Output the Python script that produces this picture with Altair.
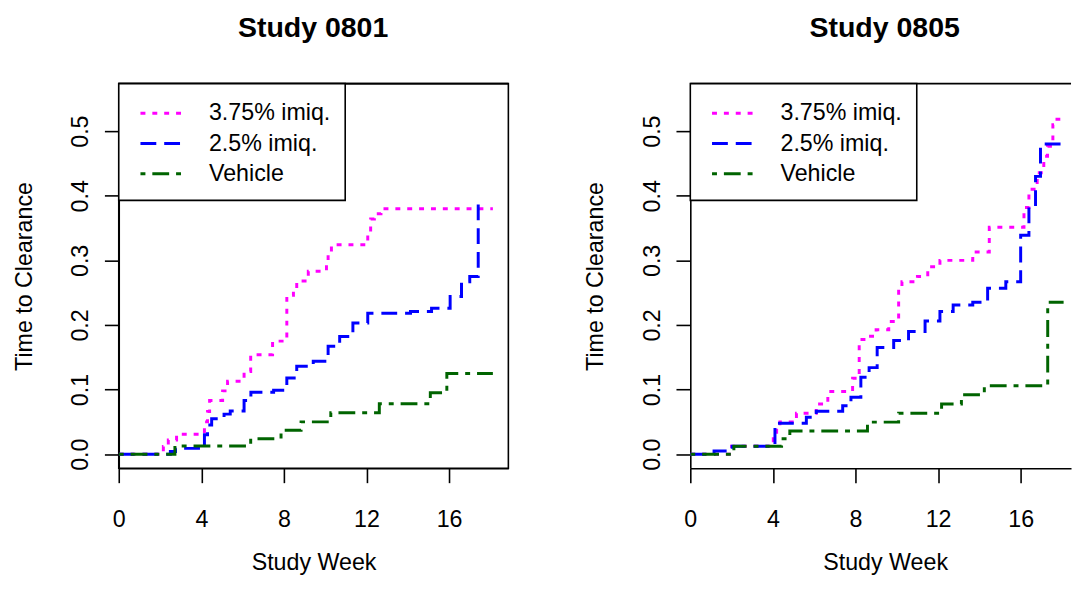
import altair as alt
import pandas as pd

FONT = "Liberation Sans"

series = ["3.75% imiq.", "2.5% imiq.", "Vehicle"]
colors = ["#FF00FF", "#0000FF", "#006400"]
dashes = [[5, 7], [16, 8], [5, 7, 17, 7]]

x_ticks = [0, 4, 8, 12, 16]
y_ticks = [0.0, 0.1, 0.2, 0.3, 0.4, 0.5]

# ---- Study 0801 ----
s1_hi_x = [0, 2.16, 2.4, 2.8, 4.15, 4.3, 4.4, 5.03, 5.27, 6.07, 6.39, 7.45, 8.14, 8.46, 8.62,
           9.18, 10.06, 10.14, 10.3, 12.06, 12.2, 12.38, 12.7, 18.12]
s1_hi_y = [0, 0.012, 0.022, 0.031, 0.05, 0.066, 0.083, 0.098, 0.113, 0.128, 0.154, 0.175, 0.246, 0.256, 0.268,
           0.283, 0.300, 0.313, 0.324, 0.340, 0.364, 0.372, 0.380, 0.380]
s1_lo_x = [0, 2.5, 2.75, 4.15, 4.3, 4.5, 5.1, 5.4, 6.07, 6.4, 7.5, 8.14, 8.62, 9.42, 10.14, 10.7,
           11.34, 12.06, 14.13, 15.15, 16.05, 16.6, 17.0, 17.41, 17.45]
s1_lo_y = [0, 0.004, 0.009, 0.03, 0.045, 0.055, 0.062, 0.067, 0.083, 0.096, 0.099, 0.118, 0.136, 0.144, 0.167, 0.182,
           0.203, 0.218, 0.221, 0.226, 0.244, 0.267, 0.275, 0.397, 0.397]
s1_veh_x = [0, 2.72, 6.39, 7.86, 8.83, 10.27, 12.62, 15.09, 15.89, 18.12]
s1_veh_y = [0, 0.0128, 0.024, 0.037, 0.050, 0.064, 0.078, 0.095, 0.125, 0.125]

# ---- Study 0805 ----
s2_hi_x = [0, 2.0, 4.02, 4.18, 4.34, 5.14, 6.10, 6.66, 7.86, 8.18, 8.5, 9.0, 9.61, 10.09, 10.25,
           11.0, 11.5, 12.09, 13.68, 14.48, 16.16, 16.4, 16.8, 17.12, 17.3, 17.56, 17.68, 17.92]
s2_hi_y = [0, 0.0123, 0.024, 0.047, 0.0497, 0.0634, 0.0777, 0.0971, 0.1176, 0.1774, 0.1825, 0.1927, 0.2055, 0.2566, 0.2669,
           0.275, 0.290, 0.300, 0.3129, 0.3512, 0.3819, 0.41, 0.4356, 0.461, 0.4765, 0.51, 0.5184, 0.5184]
s2_lo_x = [0, 1.15, 2.03, 4.10, 5.62, 6.10, 7.38, 7.78, 8.26, 8.66, 9.05, 9.85, 10.57, 11.37, 12.09,
           12.73, 13.68, 14.40, 15.28, 16.00, 16.40, 16.72, 16.96, 18.16]
s2_lo_y = [0, 0.005, 0.0123, 0.048, 0.057, 0.0665, 0.075, 0.088, 0.119, 0.134, 0.165, 0.176, 0.190, 0.206, 0.221,
           0.231, 0.235, 0.257, 0.267, 0.339, 0.382, 0.43, 0.48, 0.48]
s2_veh_x = [0, 2.11, 4.42, 4.82, 8.58, 10.09, 12.17, 13.13, 14.24, 17.31, 18.08]
s2_veh_y = [0, 0.0123, 0.024, 0.036, 0.0496, 0.0634, 0.0777, 0.092, 0.1058, 0.235, 0.235]


def make_df(parts):
    rows = []
    for name, xs, ys in parts:
        for xv, yv in zip(xs, ys):
            rows.append({"week": xv, "value": yv, "series": name})
    return pd.DataFrame(rows)


df1 = make_df([(series[0], s1_hi_x, s1_hi_y), (series[1], s1_lo_x, s1_lo_y), (series[2], s1_veh_x, s1_veh_y)])
df2 = make_df([(series[0], s2_hi_x, s2_hi_y), (series[1], s2_lo_x, s2_lo_y), (series[2], s2_veh_x, s2_veh_y)])

W = 394
W2 = 385
H = 389
XMAX = 18.87
YDOM = [-0.0219, 0.5735]
LW = 1.6


def panel(df, title, width, xmax, boxed):
    legend = alt.Legend(
        title=None, orient="top-left", offset=0, padding=15,
        labelFont=FONT, labelFontSize=23.5, labelColor="black",
        symbolType="M-0.6,0L2.6,0", symbolSize=718, symbolStrokeWidth=3,
        labelOffset=46.2, rowPadding=3.6,
        strokeColor="black", fillColor="white",
    )
    x = alt.X(
        "week:Q",
        scale=alt.Scale(domain=[0, xmax], nice=False, zero=False),
        axis=alt.Axis(
            values=x_ticks, title="Study Week", format="d",
            labelFlush=False, labelOverlap=False,
            labelPadding=43.9, labelBaseline="alphabetic",
            titleY=102.8, titleX=W / 2, titleBaseline="alphabetic",
        ),
    )
    y = alt.Y(
        "value:Q",
        scale=alt.Scale(domain=YDOM, nice=False, zero=False),
        axis=alt.Axis(
            values=y_ticks, title="Time to Clearance", format=".1f",
            labelFlush=False, labelOverlap=False,
            labelAngle=270, labelAlign="center", labelBaseline="alphabetic",
            labelPadding=17.1,
            titleAngle=270, titleAlign="center", titleBaseline="alphabetic",
            titleX=-88.3, titleY=H / 2,
        ),
    )
    lines = alt.Chart(df).mark_line(interpolate="step-after", strokeWidth=3, clip=True).encode(
        x=x,
        y=y,
        color=alt.Color("series:N", scale=alt.Scale(domain=series, range=colors), legend=legend),
        strokeDash=alt.StrokeDash("series:N", scale=alt.Scale(domain=series, range=dashes), legend=legend),
    )
    top_edge = alt.Chart(pd.DataFrame({"edge": [0]})).mark_rule(color="black", strokeWidth=LW).encode(
        x=alt.value(0), x2=alt.value(width), y=alt.value(0)
    )
    view = alt.ViewBackground(stroke="black", strokeWidth=LW) if boxed else alt.ViewBackground(stroke="transparent")
    return alt.layer(lines, top_edge).properties(
        width=width, height=H,
        title=alt.TitleParams(
            title, font=FONT, fontSize=28.8, fontWeight="bold", color="black",
            anchor="start", frame="group", offset=40.4, dx=(W - 153) / 2,
        ),
        view=view,
    )


chart = alt.hconcat(
    panel(df1, "Study 0801", W, XMAX, True),
    panel(df2, "Study 0805", W2, XMAX * W2 / W, False),
    spacing=74,
).resolve_scale(
    color="independent", strokeDash="independent"
).properties(
    padding={"left": 3, "top": 2.3, "right": 0, "bottom": 0}
).configure_axis(
    labelFont=FONT, labelFontSize=23.5, labelColor="black",
    titleFont=FONT, titleFontSize=23.5, titleFontWeight="normal", titleColor="black",
    tickColor="black", tickWidth=LW, tickSize=14.5,
    domainColor="black", domainWidth=LW, grid=False,
).configure_legend(
    strokeWidth=LW
)

chart.save("out.html", embed_options={"renderer": "svg", "actions": False})
